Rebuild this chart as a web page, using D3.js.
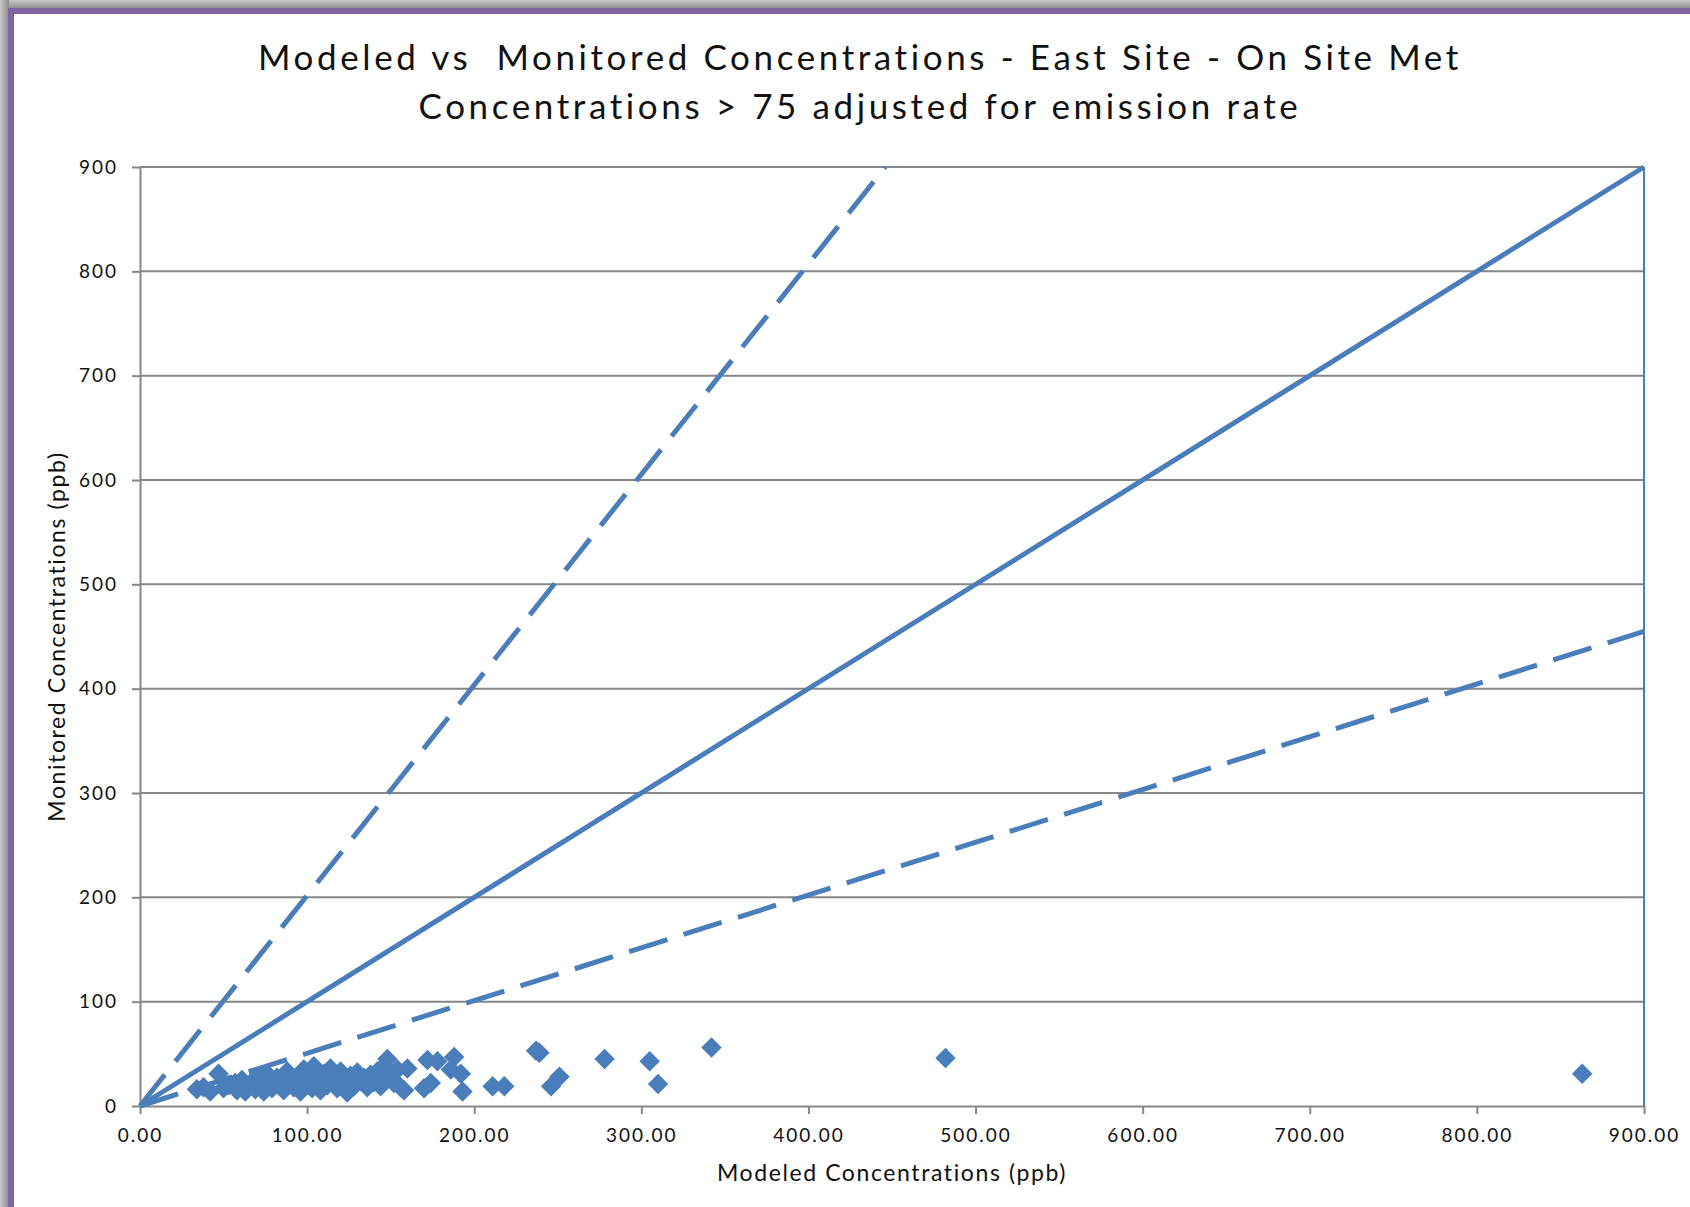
<!DOCTYPE html>
<html>
<head>
<meta charset="utf-8">
<script src="https://cdn.jsdelivr.net/npm/d3@7"></script>
<style>
	body { margin: 0; background: #fff; }
	text { font-family: Lato, "Open Sans", sans-serif; fill: #111; }
</style>
</head>
<body>
<div id="chartDiv"></div>
<script>
;(function() {

	var width = 1690;
	var height = 1207;
	var margin = { top: 167, right: 46, bottom: 101, left: 140 };

	var titleLines = ["Modeled vs  Monitored Concentrations - East Site - On Site Met",
		"Concentrations > 75 adjusted for emission rate"];
	var xAxisLabelHeader = "Modeled Concentrations (ppb)";
	var yAxisLabelHeader = "Monitored Concentrations (ppb)";

	var xTicks = [0, 100, 200, 300, 400, 500, 600, 700, 800, 900];
	var yTicks = [0, 100, 200, 300, 400, 500, 600, 700, 800, 900];

	// modeled (x) and monitored (y) pairs, ppb
	var modeled = [34, 38, 42, 47, 50, 53, 57, 58, 61, 63, 65, 67, 69, 71, 72, 74, 76, 78, 79, 82,
		84, 86, 88, 90, 92, 94, 96, 98, 99, 101, 103, 104, 106, 108, 110, 112, 114, 116, 118, 120,
		122, 124, 126, 128, 130, 132, 134, 136, 138, 140, 142, 144, 146, 148, 150, 152, 154, 156, 158, 160,
		170, 172, 174, 178, 186, 188, 192, 193, 211, 218, 237, 239, 246, 251, 278, 305, 310, 342, 482, 863];
	var monitored = [16, 18, 14, 31, 17, 20, 22, 15, 25, 14, 19, 23, 16, 28, 20, 14, 31, 24, 17, 27,
		20, 15, 33, 22, 18, 26, 14, 35, 21, 29, 17, 38, 24, 15, 31, 20, 36, 26, 17, 33,
		22, 13, 29, 19, 32, 24, 27, 18, 30, 23, 33, 19, 38, 45, 27, 22, 35, 18, 15, 36,
		17, 44, 22, 43, 35, 47, 31, 14, 19, 19, 53, 51, 19, 28, 45, 43, 21, 56, 46, 31];

	// reference lines: 1:1, about 2:1 and about 1:2, plus the right edge series
	var lineEnds = [
		{ name: "oneToOne", pts: [[0, 0], [900, 900]], dash: null },
		{ name: "twoToOne", pts: [[0, 0], [446, 900]], dash: "40,17" },
		{ name: "oneToTwo", pts: [[0, 0], [900, 455]], dash: "40,17" }
	];
	var edgeLine = [[900, 0], [900, 900]];

	var blue = "#4a7ebb";
	var gridColor = "#878787";

	var chart, chartWidth, chartHeight;

	init();

	function init() {
		chartWidth = width - margin.left - margin.right;
		chartHeight = height - margin.top - margin.bottom;

		chart = d3.select("#chartDiv").append("svg")
			.attr("width", width)
			.attr("height", height);

		drawFrame();
		drawTitle();
		createAxes();
		drawLines();
		drawDots();
	}

	function drawFrame() {
		var defs = chart.append("defs");
		var gTop = defs.append("linearGradient").attr("id", "shTop")
			.attr("x1", 0).attr("y1", 0).attr("x2", 0).attr("y2", 1);
		gTop.append("stop").attr("offset", "0%").attr("stop-color", "#c8c8c8");
		gTop.append("stop").attr("offset", "100%").attr("stop-color", "#8a8a8a");
		var gLeft = defs.append("linearGradient").attr("id", "shLeft")
			.attr("x1", 0).attr("y1", 0).attr("x2", 1).attr("y2", 0);
		gLeft.append("stop").attr("offset", "0%").attr("stop-color", "#c8c8c8");
		gLeft.append("stop").attr("offset", "100%").attr("stop-color", "#8a8a8a");

		chart.append("rect").attr("x", 0).attr("y", 0).attr("width", width).attr("height", 9)
			.attr("fill", "url(#shTop)");
		chart.append("rect").attr("x", 0).attr("y", 0).attr("width", 9).attr("height", height)
			.attr("fill", "url(#shLeft)");
		chart.append("rect")
			.attr("x", 11).attr("y", 11)
			.attr("width", width + 20).attr("height", height + 20)
			.attr("fill", "#fff")
			.attr("stroke", "#8064a2")
			.attr("stroke-width", 6);
	}

	function drawTitle() {
		chart.append("text")
			.attr("text-anchor", "middle")
			.style("font-size", "35px")
			.style("letter-spacing", "3.6px")
			.style("white-space", "pre")
			.selectAll("tspan")
			.data(titleLines)
			.enter().append("tspan")
			.attr("x", 860)
			.attr("y", function(d, i) { return 70 + i * 49; })
			.text(function(d) { return d; });
	}

	function createAxes() {
		chart.xScale = d3.scaleLinear().domain([0, 900]).range([0, chartWidth]);
		chart.yScale = d3.scaleLinear().domain([0, 900]).range([chartHeight, 0]);

		chart.plotArea = chart.append("g")
			.attr("transform", "translate(" + margin.left + "," + margin.top + ")");

		// horizontal gridlines
		chart.plotArea.selectAll(".grid")
			.data(yTicks.filter(d => d > 0))
			.enter().append("line")
			.attr("class", "grid")
			.attr("x1", 0)
			.attr("x2", chartWidth)
			.attr("y1", d => chart.yScale(d))
			.attr("y2", d => chart.yScale(d))
			.attr("stroke", gridColor)
			.attr("stroke-width", 2);

		chart.xAxis = d3.axisBottom(chart.xScale)
			.tickValues(xTicks)
			.tickSizeInner(8)
			.tickSizeOuter(0)
			.tickPadding(15)
			.tickFormat(d3.format(".2f"));

		chart.xAxisContainer = chart.plotArea.append("g")
			.attr("class", "x axis")
			.attr("transform", "translate(0," + chartHeight + ")")
			.call(chart.xAxis);

		chart.yAxis = d3.axisLeft(chart.yScale)
			.tickValues(yTicks)
			.tickSizeInner(8)
			.tickSizeOuter(0)
			.tickPadding(14)
			.tickFormat(d3.format("d"));

		chart.yAxisContainer = chart.plotArea.append("g")
			.attr("class", "y axis")
			.call(chart.yAxis);

		chart.selectAll(".axis path, .axis line")
			.attr("stroke", gridColor)
			.attr("stroke-width", 2);
		chart.selectAll(".axis text")
			.style("font-family", "Lato, 'Open Sans', sans-serif")
			.style("font-size", "19px")
			.style("letter-spacing", "2px")
			.attr("fill", "#111");

		// x axis header label
		chart.append("text")
			.style("font-size", "23px")
			.style("letter-spacing", "1.6px")
			.attr("text-anchor", "middle")
			.attr("x", margin.left + chartWidth / 2.0)
			.attr("y", 1181)
			.text(xAxisLabelHeader);

		// y axis header label
		chart.append("text")
			.style("font-size", "23px")
			.style("letter-spacing", "1.6px")
			.attr("text-anchor", "middle")
			.attr("transform", "translate(65," + (margin.top + chartHeight / 2.0) + ") rotate(-90)")
			.text(yAxisLabelHeader);
	}

	function drawLines() {
		var line = d3.line()
			.x(d => chart.xScale(d[0]))
			.y(d => chart.yScale(d[1]));

		chart.plotArea.append("path")
			.datum(edgeLine)
			.attr("d", line)
			.attr("fill", "none")
			.attr("stroke", blue)
			.attr("stroke-width", 2);

		chart.plotArea.selectAll(".refline")
			.data(lineEnds)
			.enter().append("path")
			.attr("class", "refline")
			.attr("d", d => line(d.pts))
			.attr("fill", "none")
			.attr("stroke", blue)
			.attr("stroke-width", 5)
			.attr("stroke-dasharray", d => d.dash);
	}

	function drawDots() {
		var pairs = modeled.map((x, i) => ({ x: x, y: monitored[i] }));
		var diamond = d3.symbol().type(d3.symbolSquare).size(210);

		chart.plotArea.selectAll(".dot")
			.data(pairs)
			.enter().append("path")
			.attr("class", "dot")
			.attr("d", diamond)
			.attr("transform", d => "translate(" + chart.xScale(d.x) + "," + chart.yScale(d.y) + ") rotate(45)")
			.attr("fill", blue);
	}

})();
</script>
</body>
</html>
